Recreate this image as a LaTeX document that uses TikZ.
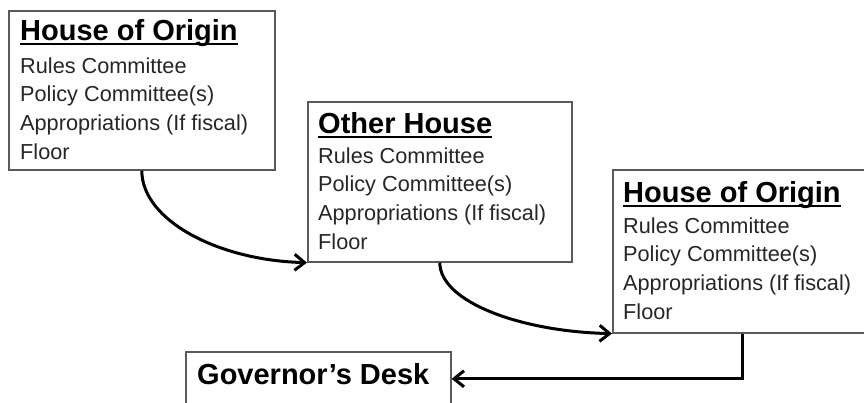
\documentclass[tikz,border=0pt]{standalone}
\usepackage{fontspec}
\setmainfont{Liberation Sans}
\usetikzlibrary{arrows.meta,calc}
\definecolor{boxgray}{HTML}{5A5A5A}
\definecolor{txtgray}{HTML}{262626}
\tikzset{
  stagebox/.style={draw=boxgray, line width=1.6pt, fill=white, inner sep=0pt, anchor=north west},
  titletext/.style={anchor=base west, inner sep=0pt, font=\fontsize{29}{31}\selectfont\bfseries, text=black},
  bodytext/.style={anchor=base west, inner sep=0pt, align=left, font=\fontsize{21.7}{28.6}\selectfont, text=txtgray},
  uline/.style={line width=2pt, black},
  flow/.style={line width=3pt, black, -{Straight Barb[length=10pt,width=16pt,line width=3pt]}}
}
\begin{document}
\begin{tikzpicture}[x=1pt,y=-1pt]
\useasboundingbox (0,0) rectangle (864,402);
\clip (0,0) rectangle (864,402);
\fill[white] (0,0) rectangle (864,402);
% boxes
\node[stagebox, minimum width=266pt, minimum height=159pt] (b1) at (8,10) {};
\node[stagebox, minimum width=264pt, minimum height=160pt] (b2) at (307,101) {};
\node[stagebox, minimum width=260pt, minimum height=163pt] (b3) at (612,169) {};
\node[stagebox, minimum width=265pt, minimum height=54pt] (gov) at (185,351) {};
% box 1 text (anchor = baseline of last line)
\node[titletext] (t1) at (20,40) {House of Origin};
\draw[uline] ([yshift=-3.5pt]t1.base west) -- ([yshift=-3.5pt]t1.base east);
\node[bodytext] (l1) at (20,159) {Rules Committee\\Policy Committee(s)\\Appropriations (If fiscal)\\Floor};
% box 2 text
\node[titletext] (t2) at (318,133) {Other House};
\draw[uline] ([yshift=-3.5pt]t2.base west) -- ([yshift=-3.5pt]t2.base east);
\node[bodytext] (l2) at (318,249) {Rules Committee\\Policy Committee(s)\\Appropriations (If fiscal)\\Floor};
% box 3 text
\node[titletext] (t3) at (623,202) {House of Origin};
\draw[uline] ([yshift=-3.5pt]t3.base west) -- ([yshift=-3.5pt]t3.base east);
\node[bodytext] (l3) at (623,319) {Rules Committee\\Policy Committee(s)\\Appropriations (If fiscal)\\Floor};
% governor
\node[titletext] (t4) at (197,384) {Governor’s Desk};
% connectors
\draw[flow] (b1.south) .. controls +(0,50) and +(-88,-2) .. (b2.south west);
\draw[flow] (b2.south) .. controls +(0,39) and +(-92,-2) .. (b3.south west);
\draw[flow] (b3.south) |- (gov.east);
\end{tikzpicture}
\end{document}
